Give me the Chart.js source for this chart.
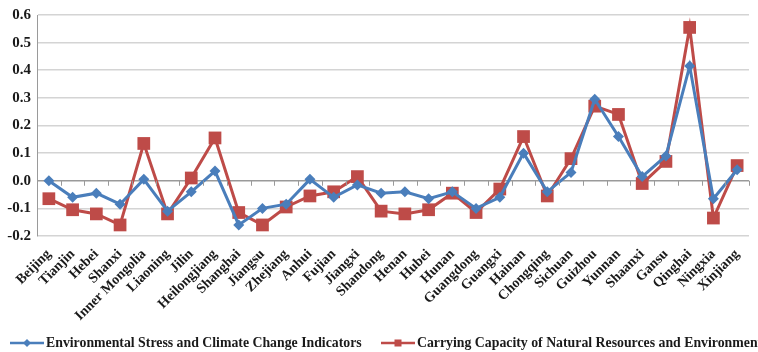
<!DOCTYPE html>
<html>
<head>
<meta charset="utf-8">
<script src="https://cdn.jsdelivr.net/npm/chart.js@4.4.0/dist/chart.umd.min.js"></script>
<style>
  html, body { margin: 0; padding: 0; background: #fff; }
  #chart { display: block; }
</style>
</head>
<body>
<canvas id="chart" width="758" height="352"></canvas>
<script>
// Provinces along the category axis
const provinces = ['Beijing', 'Tianjin', 'Hebei', 'Shanxi', 'Inner Mongolia', 'Liaoning', 'Jilin',
  'Heilongjiang', 'Shanghai', 'Jiangsu', 'Zhejiang', 'Anhui', 'Fujian', 'Jiangxi', 'Shandong',
  'Henan', 'Hubei', 'Hunan', 'Guangdong', 'Guangxi', 'Hainan', 'Chongqing', 'Sichuan', 'Guizhou',
  'Yunnan', 'Shaanxi', 'Gansu', 'Qinghai', 'Ningxia', 'Xinjiang'];

const stressValues = [0.00, -0.06, -0.045, -0.085, 0.005, -0.11, -0.04, 0.035, -0.16, -0.10,
  -0.085, 0.005, -0.06, -0.015, -0.045, -0.04, -0.065, -0.04, -0.10, -0.06, 0.10, -0.04,
  0.03, 0.295, 0.16, 0.015, 0.09, 0.415, -0.065, 0.04];

const capacityValues = [-0.065, -0.105, -0.12, -0.16, 0.135, -0.12, 0.01, 0.155, -0.115, -0.16,
  -0.095, -0.055, -0.04, 0.015, -0.11, -0.12, -0.105, -0.045, -0.115, -0.03, 0.16, -0.055,
  0.08, 0.27, 0.24, -0.01, 0.07, 0.555, -0.135, 0.055];

const seriesNames = ['Environmental Stress and Climate Change Indicators',
  'Carrying Capacity of Natural Resources and Environment'];

const yMin = -0.2;
const yMax = 0.6;
const yStep = 0.1;

const blue = '#4a7ebb';
const red = '#be4b48';
const serif = '"Liberation Serif", "Times New Roman", serif';

// Tick marks along the zero line and the legend row underneath
const excelBits = {
  id: 'excelBits',
  afterDatasetsDraw(chart) {
    const ctx = chart.ctx;
    const x = chart.scales.x;
    const y0 = chart.scales.y.getPixelForValue(0);
    const step = x.getPixelForValue(1) - x.getPixelForValue(0);
    ctx.save();
    ctx.strokeStyle = '#9a9a9a';
    ctx.lineWidth = 1;
    ctx.beginPath();
    for (let i = 0; i <= provinces.length; i++) {
      const px = Math.round(x.getPixelForValue(i) - step / 2) + 0.5;
      ctx.moveTo(px, y0);
      ctx.lineTo(px, y0 + 5);
    }
    ctx.stroke();
    ctx.restore();
  },
  afterDraw(chart) {
    const ctx = chart.ctx;
    const ly = 343;
    const items = [
      { x: 10, color: blue, shape: 'diamond', text: seriesNames[0] },
      { x: 381, color: red, shape: 'square', text: seriesNames[1] }
    ];
    ctx.save();
    items.forEach(it => {
      ctx.strokeStyle = it.color;
      ctx.lineWidth = 2.5;
      ctx.beginPath();
      ctx.moveTo(it.x, ly);
      ctx.lineTo(it.x + 34, ly);
      ctx.stroke();
      ctx.fillStyle = it.color;
      const cx = it.x + 17;
      if (it.shape === 'diamond') {
        ctx.beginPath();
        ctx.moveTo(cx, ly - 4);
        ctx.lineTo(cx + 4, ly);
        ctx.lineTo(cx, ly + 4);
        ctx.lineTo(cx - 4, ly);
        ctx.closePath();
        ctx.fill();
      } else {
        ctx.fillRect(cx - 3.5, ly - 3.5, 7, 7);
      }
      ctx.fillStyle = '#1a1a1a';
      ctx.font = 'bold 13.8px ' + serif;
      ctx.textBaseline = 'middle';
      ctx.fillText(it.text, it.x + 36, ly);
    });
    ctx.restore();
  }
};

new Chart(document.getElementById('chart'), {
  type: 'line',
  data: {
    labels: provinces,
    datasets: [
      {
        label: seriesNames[0],
        data: stressValues,
        borderColor: blue,
        backgroundColor: blue,
        borderWidth: 3,
        pointStyle: 'rectRot',
        pointRadius: 5.5,
        pointBorderWidth: 0,
        tension: 0
      },
      {
        label: seriesNames[1],
        data: capacityValues,
        borderColor: red,
        backgroundColor: red,
        borderWidth: 3,
        pointStyle: 'rect',
        pointRadius: 9,
        pointBorderWidth: 0,
        tension: 0
      }
    ]
  },
  options: {
    responsive: false,
    animation: false,
    layout: { padding: { top: 15, right: 5, left: 0, bottom: 0 } },
    plugins: {
      legend: { display: false },
      tooltip: { enabled: false }
    },
    scales: {
      x: {
        offset: true,
        grid: { display: false },
        border: { display: false },
        ticks: {
          autoSkip: false,
          minRotation: 45,
          maxRotation: 45,
          padding: 2,
          color: '#1a1a1a',
          font: { family: serif, size: 14, weight: 'bold' }
        },
        afterFit(scale) { scale.height = 116; }
      },
      y: {
        min: yMin,
        max: yMax,
        border: { display: true, color: '#9a9a9a', width: 1 },
        grid: {
          color: ctx => ctx.tick && Math.abs(ctx.tick.value) < 1e-9 ? '#9a9a9a' : '#d4d4d4',
          lineWidth: 1.5,
          drawTicks: false
        },
        ticks: {
          stepSize: yStep,
          padding: 6,
          color: '#1a1a1a',
          font: { family: serif, size: 15, weight: 'bold' },
          callback: v => v.toFixed(1)
        },
        afterFit(scale) { scale.width = 37; }
      }
    }
  },
  plugins: [excelBits]
});
</script>
</body>
</html>
